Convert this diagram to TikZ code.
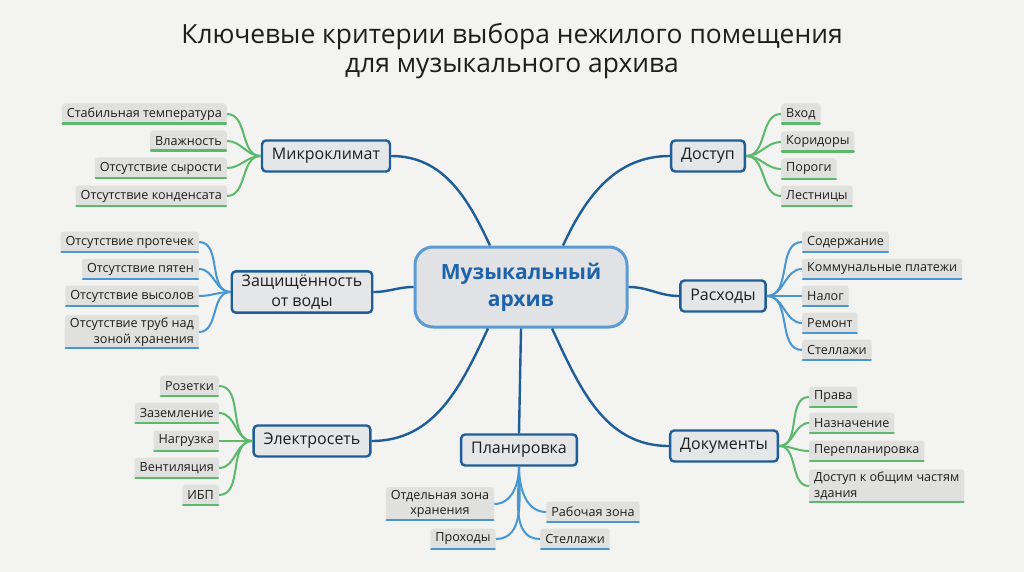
\documentclass[tikz,border=0pt]{standalone}
\usepackage{fontspec}
\setmainfont{Open Sans}
\usetikzlibrary{positioning}
\definecolor{bgPaper}{HTML}{F3F3F1}
\definecolor{leafGrey}{HTML}{E0E0DF}
\definecolor{boxGrey}{HTML}{E4E6E8}
\definecolor{hubGrey}{HTML}{E0E2E5}
\definecolor{brandDeep}{HTML}{1F5D98}
\definecolor{hubEdge}{HTML}{5B9BD5}
\definecolor{hubInk}{HTML}{1E63AA}
\definecolor{twigGreen}{HTML}{5CB86B}
\definecolor{twigBlue}{HTML}{4896D2}
\definecolor{inkDark}{HTML}{1E1E1E}

\tikzset{
  leaf/.style={fill=leafGrey, rounded corners=3pt, inner xsep=5pt, inner ysep=3pt,
    minimum height=21pt, text=inkDark, font=\fontsize{12.6}{15.5}\selectfont},
  leafL/.style={leaf, anchor=east, align=right},
  leafR/.style={leaf, anchor=west, align=left},
  branch/.style={draw=brandDeep, line width=2.4pt, fill=boxGrey, rounded corners=4pt,
    minimum height=31pt, inner xsep=10pt, text=inkDark, align=center,
    font=\fontsize{16}{20}\selectfont},
  hub/.style={draw=hubEdge, line width=3pt, fill=hubGrey, rounded corners=18pt,
    minimum width=212pt, minimum height=80pt, align=center, text=hubInk,
    font=\fontsize{21}{27}\selectfont\bfseries},
  trunk/.style={brandDeep, line width=2.4pt},
  twigG/.style={twigGreen, line width=2pt},
  twigB/.style={twigBlue, line width=2pt},
  ulG/.style={twigGreen, line width=2.4pt, line cap=round},
  ulB/.style={twigBlue, line width=2.4pt, line cap=round}
}

\begin{document}
\begin{tikzpicture}[x=1pt,y=-1pt]
  \fill[bgPaper] (0,0) rectangle (1024,572);
  \useasboundingbox (0,0) rectangle (1024,572);

  \node[align=center, text=inkDark, font=\fontsize{26.4}{29}\selectfont] (title) at (512,51)
    {Ключевые критерии выбора нежилого помещения\\для музыкального архива};

  % centre and main branches
  \node[hub] (hub) at (521,287) {Музыкальный\\архив};
  \node[branch] (mk) at (326,156) {Микроклимат};
  \node[branch] (zv) at (302,292) {Защищённость\\от воды};
  \node[branch] (el) at (312,441) {Электросеть};
  \node[branch] (dst) at (708,156) {Доступ};
  \node[branch] (rs) at (723,296) {Расходы};
  \node[branch] (doc) at (724,446) {Документы};
  \node[branch] (pl) at (519,450) {Планировка};

  \draw[trunk] ([xshift=-31pt]hub.north) to[out=115,in=0] (mk.east);
  \draw[trunk] ([xshift=42pt]hub.north) to[out=65,in=180] (dst.west);
  \draw[trunk] (hub.west) to[out=180,in=0] (zv.east);
  \draw[trunk] (hub.east) to[out=0,in=180] (rs.west);
  \draw[trunk] ([xshift=-33pt]hub.south) to[out=245,in=0] (el.east);
  \draw[trunk] ([xshift=31pt]hub.south) to[out=295,in=180] (doc.west);
  \draw[trunk] (hub.south) -- (pl.north);

  % left side
  \foreach \i/\y/\t in {1/114/Стабильная температура, 2/141/Влажность,
      3/168/Отсутствие сырости, 4/196/Отсутствие конденсата}{
    \node[leafL] (mk\i) at (227,\y) {\t};
    \draw[ulG] ([xshift=1pt,yshift=1pt]mk\i.south west) -- ([xshift=-1pt,yshift=1pt]mk\i.south east);
    \draw[twigG] (mk.west) to[out=180,in=0] (mk\i.east);
  }
  \foreach \i/\y/\t in {1/242/Отсутствие протечек, 2/269/Отсутствие пятен,
      3/296/Отсутствие высолов, 4/332/{Отсутствие труб над\\зоной хранения}}{
    \node[leafL] (zv\i) at (199,\y) {\t};
    \draw[ulB] ([xshift=1pt,yshift=1pt]zv\i.south west) -- ([xshift=-1pt,yshift=1pt]zv\i.south east);
    \draw[twigB] (zv.west) to[out=180,in=0] (zv\i.east);
  }
  \foreach \i/\y/\t in {1/386/Розетки, 2/413/Заземление, 3/441/Нагрузка,
      4/468/Вентиляция, 5/495/ИБП}{
    \node[leafL] (el\i) at (219,\y) {\t};
    \draw[ulG] ([xshift=1pt,yshift=1pt]el\i.south west) -- ([xshift=-1pt,yshift=1pt]el\i.south east);
    \draw[twigG] (el.west) to[out=180,in=0] (el\i.east);
  }

  % right side
  \foreach \i/\y/\t in {1/114/Вход, 2/142/Коридоры, 3/169/Пороги, 4/196/Лестницы}{
    \node[leafR] (dst\i) at (781,\y) {\t};
    \draw[ulG] ([xshift=1pt,yshift=1pt]dst\i.south west) -- ([xshift=-1pt,yshift=1pt]dst\i.south east);
    \draw[twigG] (dst.east) to[out=0,in=180] (dst\i.west);
  }
  \foreach \i/\y/\t in {1/242/Содержание, 2/269/Коммунальные платежи, 3/296/Налог,
      4/323/Ремонт, 5/350/Стеллажи}{
    \node[leafR] (rs\i) at (802,\y) {\t};
    \draw[ulB] ([xshift=1pt,yshift=1pt]rs\i.south west) -- ([xshift=-1pt,yshift=1pt]rs\i.south east);
    \draw[twigB] (rs.east) to[out=0,in=180] (rs\i.west);
  }
  \foreach \i/\y/\t in {1/397/Права, 2/423/Назначение, 3/451/Перепланировка,
      4/486/{Доступ к общим частям\\здания}}{
    \node[leafR] (doc\i) at (809,\y) {\t};
    \draw[ulG] ([xshift=1pt,yshift=1pt]doc\i.south west) -- ([xshift=-1pt,yshift=1pt]doc\i.south east);
    \draw[twigG] (doc.east) to[out=0,in=180] (doc\i.west);
  }

  % planning, below the centre
  \node[leaf, align=center] (pl1) at (440,504) {Отдельная зона\\хранения};
  \node[leaf] (pl2) at (593,512) {Рабочая зона};
  \node[leaf] (pl3) at (463,539) {Проходы};
  \node[leaf] (pl4) at (575,539) {Стеллажи};
  \foreach \i in {1,...,4}
    \draw[ulB] ([xshift=1pt,yshift=1pt]pl\i.south west) -- ([xshift=-1pt,yshift=1pt]pl\i.south east);
  \draw[twigB] (pl.south) to[out=270,in=0] (pl1.east);
  \draw[twigB] (pl.south) to[out=270,in=180] (pl2.west);
  \draw[twigB] (pl.south) to[out=270,in=0] (pl3.east);
  \draw[twigB] (pl.south) to[out=270,in=180] (pl4.west);
\end{tikzpicture}
\end{document}
